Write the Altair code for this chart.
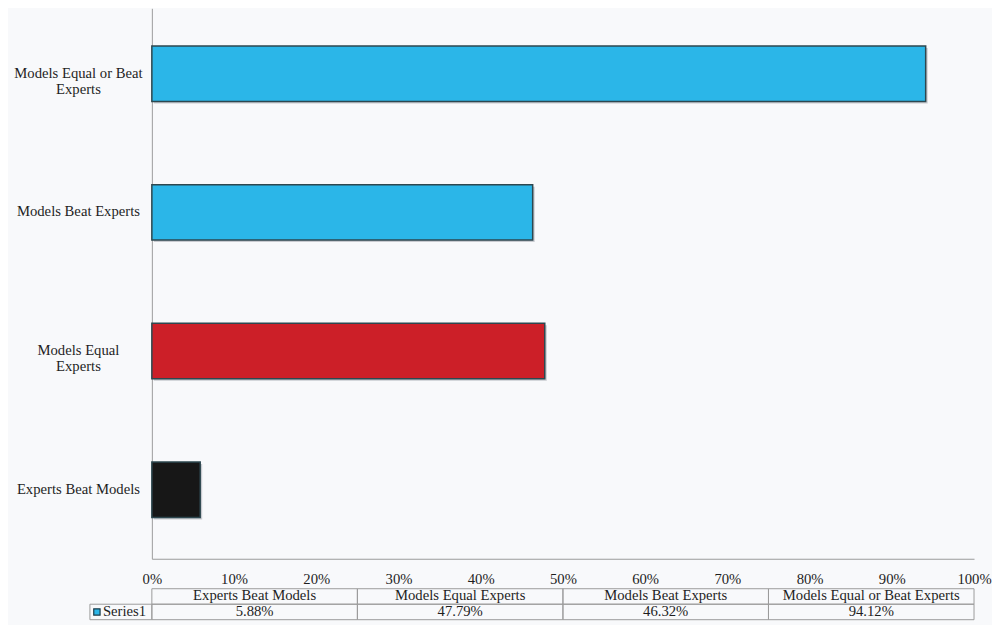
import altair as alt
import pandas as pd

# ---- data ----
categories = ["Experts Beat Models", "Models Equal Experts", "Models Beat Experts", "Models Equal or Beat Experts"]
shares = [0.0588, 0.4779, 0.4632, 0.9412]
share_labels = ["5.88%", "47.79%", "46.32%", "94.12%"]
bar_colors = ["#171717", "#cc1f28", "#2bb6e8", "#2bb6e8"]
series_name = "Series1"

FONT = "'Liberation Serif', 'Times New Roman', Times, 'DejaVu Serif', serif"
FS = 14.7
TXT = "#1e1e1e"
BG = "#f8f9fb"
GRID = "#9c9c9c"
W = 823

bars_df = pd.DataFrame({"category": categories, "share": shares})

y_label_expr = (
    "datum.label == 'Models Equal or Beat Experts' ? ['Models Equal or Beat', 'Experts'] : "
    "datum.label == 'Models Equal Experts' ? ['Models Equal', 'Experts'] : datum.label"
)

x_scale = alt.Scale(domain=[0, 1], nice=False, zero=True)
y_enc = alt.Y("category:N", sort=list(reversed(categories)), title=None,
              scale=alt.Scale(paddingInner=0.6, paddingOuter=0.285, align=0.477),
              axis=alt.Axis(labelExpr=y_label_expr, labelAlign="center", labelPadding=74,
                            labelLineHeight=16, labelFontSize=FS, labelFont=FONT, labelColor=TXT,
                            ticks=False, domainColor=GRID, labelLimit=300))
x_enc = alt.X("share:Q", scale=x_scale,
              axis=alt.Axis(format=".0%", values=[i / 10 for i in range(11)], title=None,
                            ticks=False, grid=False, labelPadding=13, domainColor=GRID,
                            labelFontSize=FS, labelFont=FONT, labelColor=TXT, labelFlush=False))

shadow = alt.Chart(bars_df).mark_bar(color="#c9cbd0", xOffset=2, yOffset=2).encode(
    x=x_enc, y=y_enc)
bars = alt.Chart(bars_df).mark_bar(stroke="#2d474f", strokeWidth=1.5).encode(
    x=x_enc, y=y_enc,
    color=alt.Color("category:N", scale=alt.Scale(domain=categories, range=bar_colors), legend=None),
)
main = alt.layer(shadow, bars).properties(width=W, height=551)

# ---- data table under the axis ----
n = len(categories)
rows = []
for i, (c, lab) in enumerate(zip(categories, share_labels)):
    rows.append({"row": "head", "start": i / n, "end": (i + 1) / n, "mid": (i + 0.5) / n, "text": c})
    rows.append({"row": "val", "start": i / n, "end": (i + 1) / n, "mid": (i + 0.5) / n, "text": lab})
table_df = pd.DataFrame(rows)

ty = alt.Y("row:N", scale=alt.Scale(domain=["head", "val"], paddingInner=0, paddingOuter=0), axis=None)
tx_scale = alt.Scale(domain=[0, 1], nice=False)

cells = alt.Chart(table_df).mark_rect(fill="transparent", stroke=GRID, strokeWidth=1).encode(
    x=alt.X("start:Q", scale=tx_scale, axis=None), x2="end:Q", y=ty)
cell_text = alt.Chart(table_df).mark_text(font=FONT, fontSize=FS, color=TXT).encode(
    x=alt.X("mid:Q", scale=tx_scale, axis=None), y=ty, text="text:N")

series_df = pd.DataFrame({"row": ["val"], "name": [series_name]})
series_cell = alt.Chart(series_df).mark_rect(fill="transparent", stroke=GRID, strokeWidth=1).encode(
    x=alt.value(-62), x2=alt.value(0), y=ty)
series_text = alt.Chart(series_df).mark_text(font=FONT, fontSize=FS, color=TXT, align="left").encode(
    x=alt.value(-49), y=ty, text="name:N")
series_key = alt.Chart(series_df).mark_point(shape="square", filled=True, size=40, fill="#2bb6e8",
                                             stroke="#1d3c4a", strokeWidth=1.2, opacity=1).encode(
    x=alt.value(-55), y=ty)

table = alt.layer(cells, cell_text, series_cell, series_text, series_key).properties(width=W, height=31)

chart = alt.vconcat(main, table, spacing=1).properties(
    background=BG,
    padding={"left": 5, "top": 0, "right": 0, "bottom": 4},
).configure_view(stroke=None).configure_concat(spacing=1)

chart.save("out.html", embed_options={"renderer": "svg", "actions": False})
